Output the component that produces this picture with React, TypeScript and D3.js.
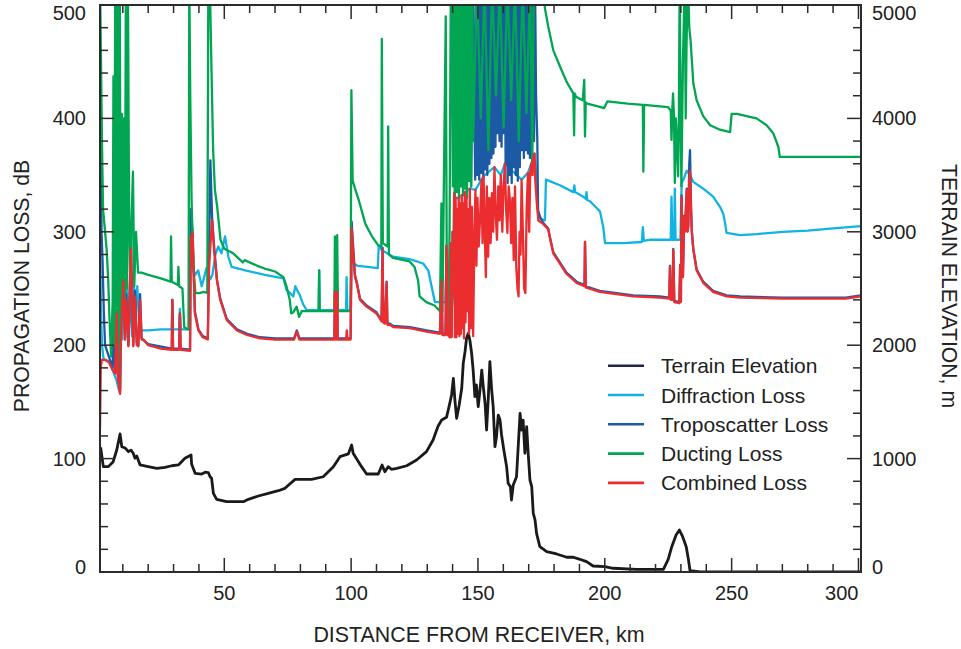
import React from "react";
import * as d3 from "d3";

type P = [number, number];

// distance (km) , elevation (m)
const terrain: P[] = [
  [1.0, 1080], [1.3, 1091], [2.3, 929], [4.3, 929], [6.2, 973], [7.6, 1076], [8.9, 1217], [9.6, 1105], [10.9, 1093],
  [12.2, 1061], [13.2, 1075], [14.1, 1047], [14.8, 1003], [15.5, 1023], [16.8, 944], [20.0, 929], [23.4, 914], [26.6, 923],
  [29.3, 937], [31.9, 944], [34.5, 1003], [36.9, 1032], [37.1, 952], [38.5, 870], [41.1, 864], [42.5, 880], [43.7, 876],
  [44.4, 840], [45.0, 826], [45.7, 694], [47.0, 641], [50.9, 620], [57.5, 620], [59.5, 641], [63.4, 670],
  [67.3, 694], [71.3, 717], [73.9, 738], [77.9, 817], [84.4, 817], [89.0, 840], [93.0, 929], [95.6, 1017],
  [98.9, 1041], [100.2, 1120], [100.8, 1047], [104.1, 929], [106.1, 864], [110.7, 864], [112.2, 944], [113.3, 884],
  [114.6, 929], [115.9, 906], [118.0, 914], [121.9, 937], [125.8, 988], [129.7, 1061], [132.3, 1164], [134.3, 1287],
  [135.7, 1340], [137.6, 1364], [138.6, 1458], [139.6, 1561], [140.3, 1708], [140.9, 1517], [141.6, 1355],
  [142.6, 1473], [143.6, 1620], [144.2, 1840], [144.9, 1943], [145.5, 2061], [146.2, 2105], [146.8, 2046],
  [147.5, 1929], [148.1, 1781], [148.8, 1546], [149.4, 1649], [150.1, 1458], [150.8, 1605], [151.5, 1781],
  [152.1, 1634], [152.8, 1488], [153.4, 1252], [154.1, 1546], [154.7, 1855], [155.4, 1605], [156.0, 1458],
  [156.7, 1105], [157.3, 1193], [158.0, 1384], [158.7, 1340], [159.3, 1208], [160.2, 1076], [161.3, 929],
  [161.9, 782], [162.8, 752], [163.2, 635], [163.9, 767], [165.2, 840], [166.6, 1399], [167.2, 1252], [167.8, 1340],
  [168.5, 1047], [169.2, 1281], [169.8, 1047], [170.5, 811], [171.2, 752], [171.8, 518], [172.5, 459], [173.1, 341],
  [174.4, 223], [177.1, 179], [181.0, 159], [185.0, 130], [187.6, 130], [190.2, 112], [192.8, 91], [195.4, 53],
  [200.0, 47], [203.3, 33], [212.5, 24], [223.1, 24], [225.0, 112], [226.4, 223], [228.1, 326], [229.4, 370],
  [230.7, 311], [232.1, 223], [233.0, 106], [233.6, 11], [237.6, 0], [301, 0],
];

// distance (km) , loss (dB)
const diffraction: P[] = [
  [1.0, 300], [1.4, 230], [1.8, 200], [2.4, 188], [3.5, 187], [5.0, 185], [6.5, 175], [7.5, 169], [8.4, 161],
  [8.9, 158], [9.3, 235], [9.8, 205], [10.4, 285], [11.0, 205], [11.6, 262], [12.2, 203], [13.0, 250], [13.6, 208],
  [14.3, 255], [15.0, 232], [15.7, 252], [16.3, 225], [16.8, 213], [20, 213], [25, 214], [29.3, 214], [29.5, 240],
  [29.8, 214], [32.2, 214], [32.5, 232], [32.8, 214], [36.2, 214], [36.6, 290], [37.3, 270], [38.5, 262],
  [39.7, 266], [41.1, 252], [43.0, 268], [44.4, 258], [45.3, 262], [46.5, 280], [47.6, 287], [48.9, 281],
  [50.3, 296], [51.6, 278], [52.9, 269], [58.2, 266], [66.0, 262], [73.3, 259], [74.5, 249], [77.2, 243],
  [78.0, 252], [78.8, 248], [79.8, 244], [81.1, 236], [82.5, 231], [87.2, 231], [87.4, 266], [87.6, 231],
  [98.0, 231], [98.2, 260], [98.5, 231], [99.8, 231], [100.2, 287], [101.0, 272], [102.5, 270], [106.5, 269],
  [110.5, 268], [110.9, 288], [112.0, 284], [116.5, 278], [123, 276], [125.8, 274], [128.4, 272], [130.4, 266],
  [131.7, 252], [133.0, 238], [135.0, 238], [137.2, 238], [137.6, 287], [138.0, 238], [138.9, 238], [139.3, 290],
  [139.6, 230], [140.3, 246], [140.6, 334], [141.2, 330], [142.4, 330], [143.6, 332], [144.8, 335], [146.8, 338],
  [149.0, 337], [151.4, 346], [152.2, 349], [156.5, 357], [159.0, 350], [160.6, 360], [167.2, 346], [169.7, 352],
  [171.0, 360], [172.3, 369], [173.1, 345], [173.8, 312], [176.4, 310], [176.8, 346], [182.3, 341], [187.6, 335],
  [188.0, 341], [188.3, 335], [191.5, 331], [192.5, 329], [192.8, 335], [193.1, 328], [194.1, 327], [196.8, 321],
  [198.1, 318], [199.4, 304], [200.1, 290], [207.3, 290], [214.6, 291], [215.0, 304], [215.4, 292], [218, 293],
  [226.0, 293], [226.3, 331], [226.6, 293], [227.3, 293], [227.6, 338], [227.9, 293], [229.8, 293], [230.3, 343],
  [231.0, 346], [232.3, 354], [233.6, 350], [234.9, 344], [238.8, 338], [242.7, 331], [245.4, 322], [246.7, 316],
  [247.3, 309], [248.0, 299], [253.3, 297], [260, 298], [270, 300], [280, 301], [290, 303], [301, 305],
];

const troposcatter: P[] = [
  [1.0, 300], [1.3, 451], [1.6, 300], [2.0, 275], [2.5, 230], [3.0, 200], [4.5, 190], [6.0, 180], [6.5, 250],
  [7.0, 176], [7.6, 230], [8.0, 175], [8.9, 160], [9.2, 220], [9.6, 316], [10.2, 260], [10.8, 210], [11.3, 245],
  [12.2, 200], [13.2, 290], [14.1, 200], [14.8, 248], [15.5, 202], [16.1, 200], [16.8, 245], [17.4, 206], [20, 201],
  [29.3, 197], [29.5, 240], [29.8, 197], [32.2, 197], [32.5, 228], [32.8, 197], [36.5, 196], [36.8, 320],
  [37.5, 300], [38.4, 230], [39.8, 214], [41.5, 208], [43.5, 206], [44.0, 280], [44.5, 363], [45.2, 312],
  [46.0, 286], [47.1, 258], [48.4, 241], [51, 223], [55, 214], [59, 210], [64.1, 207], [70, 206], [77.5, 206],
  [78.6, 213], [79.6, 206], [93.4, 206], [93.6, 248], [93.8, 206], [94.3, 206], [94.5, 248], [94.7, 206],
  [99.8, 206], [100.2, 309], [101.5, 262], [102.2, 256], [103.5, 241], [106.1, 235], [110.0, 229], [112.0, 222],
  [112.4, 286], [112.7, 221], [113.3, 220], [114.0, 256], [114.3, 219], [115.3, 219], [116.6, 217], [123.2, 216],
  [129.7, 213], [135.0, 211], [135.7, 258], [136.0, 210], [137.2, 210], [137.6, 288], [138.0, 210], [138.9, 208],
  [139.3, 290], [139.6, 208], [140.0, 300], [140.3, 250], [140.9, 335], [141.7, 520], [142.5, 340], [143.3, 520],
  [144.1, 338], [144.9, 520], [145.7, 345], [146.5, 520], [147.3, 340], [148.1, 520], [148.9, 346], [149.3, 520],
  [149.7, 350], [150.1, 520], [150.5, 346], [150.9, 520], [151.3, 352], [151.7, 520], [152.1, 346], [152.5, 520],
  [152.9, 355], [153.3, 520], [153.7, 350], [154.1, 520], [154.5, 360], [154.9, 520], [155.3, 365], [155.7, 520],
  [156.1, 369], [156.5, 520], [156.9, 375], [157.3, 520], [157.7, 387], [158.1, 520], [158.5, 380], [158.9, 520],
  [159.3, 375], [159.7, 520], [160.1, 387], [160.5, 520], [160.9, 360], [161.3, 520], [161.7, 343], [162.1, 520],
  [162.5, 350], [162.9, 520], [163.3, 343], [163.7, 520], [164.1, 357], [164.5, 520], [164.9, 350], [165.3, 520],
  [165.7, 345], [166.1, 520], [166.5, 357], [166.9, 520], [167.3, 372], [167.7, 520], [168.1, 365], [168.5, 520],
  [168.9, 372], [169.3, 520], [169.7, 369], [170.1, 520], [170.5, 365], [170.9, 520], [171.3, 372], [171.7, 520],
  [172.1, 380], [172.5, 520], [172.9, 420], [173.4, 380], [173.7, 319], [174.5, 313],
  [175.7, 308], [177.7, 303], [178.5, 294], [179.7, 282], [182.3, 273], [184.9, 264], [188.9, 256], [192.0, 253],
  [192.2, 291], [192.5, 252], [198, 248], [204.6, 246], [211.2, 244], [221.7, 243], [225.4, 242], [225.7, 270],
  [226.0, 241], [226.7, 241], [227.0, 285], [227.4, 239], [229.4, 238], [229.7, 271], [230.0, 239], [230.3, 332],
  [230.8, 261], [231.3, 314], [231.6, 301], [232.3, 338], [232.6, 301], [232.9, 305], [233.3, 360], [233.6, 372],
  [234.0, 321], [234.3, 301], [234.9, 285], [236.2, 267], [238.8, 256], [242.7, 248], [248.0, 244], [253.3, 243],
  [270, 242], [295, 242], [301, 244],
];

const ducting: P[] = [
  [1.0, 520], [1.4, 450], [1.7, 390], [2.2, 320], [2.8, 305], [3.6, 285], [4.2, 260], [4.8, 220], [5.4, 190],
  [6.0, 240], [6.3, 437], [6.6, 200], [7.0, 520], [7.4, 185], [7.9, 520], [8.3, 178], [8.8, 520], [9.2, 200],
  [9.6, 404], [10.0, 243], [10.4, 400], [10.8, 240], [11.2, 520], [11.6, 250], [12.0, 520], [12.5, 299], [13.0, 240],
  [13.4, 310], [14.0, 353], [14.5, 252], [15.2, 300], [16.0, 264], [17.4, 264], [20, 262], [25, 259], [28.8, 256],
  [29.0, 296], [29.3, 256], [31.7, 253], [31.9, 269], [32.2, 252], [33.5, 250], [34.2, 216], [35.5, 214],
  [35.9, 214], [36.2, 520], [36.6, 416], [37.1, 328], [37.8, 269], [38.6, 246], [40, 246], [42, 247], [43.3, 246],
  [43.7, 520], [44.3, 520], [44.8, 460], [45.6, 372], [46.3, 337], [47.2, 322], [48.5, 293], [50, 285], [53.5, 281],
  [57.3, 273], [58.0, 275], [63, 270], [66.7, 267], [70, 265], [73.3, 260], [74.5, 252], [75.8, 240], [76.4, 228],
  [77.2, 229], [78.5, 234], [79.5, 225], [80.5, 230], [87.2, 230], [87.4, 266], [87.6, 230], [93.4, 230],
  [93.6, 296], [93.9, 230], [94.3, 230], [94.5, 297], [94.8, 230], [99.8, 230], [100.1, 425], [100.6, 345],
  [101.7, 337], [103, 328], [105.6, 307], [108.2, 296], [110.7, 288], [111.9, 287], [112.1, 470], [112.5, 290],
  [114.4, 287], [114.6, 393], [114.9, 280], [116.5, 277], [123, 274], [125, 269], [126.4, 257], [127, 243],
  [129.6, 238], [132.9, 235], [135.0, 230], [135.6, 325], [136.0, 230], [137.3, 490], [137.8, 220], [138.3, 210],
  [138.8, 300], [139.3, 520], [139.7, 520], [140.1, 340], [140.5, 520], [140.9, 330], [141.3, 520], [141.7, 335],
  [142.1, 520], [142.5, 328], [142.9, 520], [143.3, 340], [143.7, 520], [144.1, 332], [144.5, 520], [144.9, 338],
  [145.3, 520], [145.7, 330], [146.1, 520], [146.5, 345], [146.9, 520], [147.3, 340], [147.7, 520], [148.1, 380],
  [149.6, 520], [151.1, 400], [152.6, 520], [154.1, 372], [155.6, 520], [157.1, 420], [158.6, 520], [160.1, 392],
  [161.6, 520], [163.1, 416], [164.6, 520], [166.1, 380], [167.6, 520], [169.1, 405], [170.6, 520], [171.4, 357],
  [172.0, 520], [176.2, 520], [176.4, 497], [177.7, 481],
  [179.7, 460], [182.3, 446], [185.0, 432], [187.6, 422], [187.9, 385], [188.1, 422], [188.7, 419], [191.3, 416],
  [191.9, 434], [192.2, 384], [192.5, 414], [193.1, 413], [198.4, 410], [199.7, 409], [201, 415], [209, 413],
  [215.0, 412], [215.2, 353], [215.5, 412], [224.9, 410], [226.0, 407], [226.3, 381], [226.6, 407], [226.9, 422],
  [227.3, 400], [227.6, 343], [228.0, 400], [228.4, 380], [228.9, 349], [229.2, 400], [229.5, 520], [230.0, 380],
  [230.2, 340], [230.8, 450], [231.5, 520], [231.9, 400], [232.2, 460], [232.5, 500], [232.8, 520], [233.3, 480],
  [233.8, 469], [234.9, 431], [236.2, 416], [238.8, 402], [241.5, 394], [245.4, 390], [249.4, 388], [250.0, 404],
  [252.0, 404], [259.8, 400], [263.8, 394], [266.4, 387], [268.4, 375], [269.0, 366], [301, 366],
];

const combined: P[] = [
  [1.0, 127], [1.3, 180], [1.7, 187], [3.0, 187], [4.5, 185], [6.0, 178], [7.0, 175], [7.6, 228], [8.0, 172],
  [8.9, 157], [9.2, 200], [9.6, 230], [10.2, 257], [10.8, 205], [11.3, 240], [12.2, 199], [13.2, 285], [14.1, 199],
  [14.8, 243], [15.5, 200], [16.1, 199], [16.8, 240], [17.4, 205], [18.1, 205], [20.0, 200], [25, 197], [29.3, 196],
  [29.5, 240], [29.8, 196], [32.2, 196], [32.5, 228], [32.8, 196], [36.5, 195], [36.8, 294], [37.5, 299],
  [38.4, 228], [39.8, 213], [41.5, 207], [43.5, 205], [44.0, 269], [44.5, 287], [45.2, 310], [46.0, 284],
  [47.1, 257], [48.4, 240], [51, 222], [55, 213], [59, 209], [64.1, 206], [70, 205], [77.5, 205], [78.6, 212],
  [79.6, 205], [93.4, 205], [93.6, 247], [93.8, 205], [94.3, 205], [94.5, 247], [94.7, 205], [98.0, 205],
  [98.3, 213], [98.6, 205], [99.8, 205], [100.2, 303], [101.5, 260], [102.2, 255], [103.5, 240], [106.1, 234],
  [110.0, 228], [112.0, 221], [112.4, 284], [112.7, 220], [113.3, 219], [114.0, 255], [114.3, 218], [115.3, 218],
  [116.6, 216], [123.2, 215], [129.7, 212], [135.0, 210], [135.4, 240], [135.7, 257], [136.0, 209], [137.2, 209],
  [137.6, 287], [138.0, 209], [138.6, 208], [138.9, 207], [139.3, 290], [139.6, 207], [140.0, 300], [140.3, 246],
  [140.6, 334], [140.9, 207], [141.2, 330], [141.5, 207], [141.8, 320], [142.1, 210], [142.4, 330], [142.7, 208],
  [143.0, 325], [143.3, 210], [143.6, 332], [143.9, 215], [144.2, 325], [144.5, 206], [144.8, 335], [145.1, 220],
  [145.5, 331], [145.8, 230], [146.2, 320], [146.5, 210], [146.8, 338], [147.2, 215], [147.6, 322], [148.1, 208],
  [148.6, 300], [149.0, 337], [149.4, 270], [149.8, 330], [150.3, 287], [150.8, 310], [151.4, 346], [151.8, 290],
  [152.2, 349], [152.7, 300], [153.1, 260], [153.5, 340], [154.0, 278], [154.5, 330], [155.0, 290], [155.5, 334],
  [156.0, 300], [156.5, 357], [157.0, 315], [157.5, 293], [158.0, 340], [158.5, 310], [159.0, 350], [159.6, 300],
  [160.1, 340], [160.6, 360], [161.1, 320], [161.6, 299], [162.1, 340], [162.6, 328], [163.1, 290], [163.6, 330],
  [164.1, 275], [164.6, 340], [165.1, 269], [165.6, 250], [166.0, 243], [166.4, 300], [166.8, 280], [167.2, 346],
  [167.7, 300], [168.2, 250], [168.7, 246], [169.2, 320], [169.7, 352], [170.2, 300], [170.6, 352], [171.0, 360],
  [171.5, 350], [171.8, 366], [172.3, 369], [172.6, 345], [173.1, 328], [173.8, 310], [175.7, 307], [177.7, 302],
  [178.5, 293], [179.7, 281], [182.3, 272], [184.9, 263], [188.9, 255], [192.0, 252], [192.2, 291], [192.5, 251],
  [198, 247], [204.6, 245], [211.2, 243], [221.7, 242], [225.4, 241], [225.7, 269], [226.0, 240], [226.7, 240],
  [227.0, 284], [227.4, 238], [229.4, 237], [229.7, 270], [230.0, 238], [230.3, 331], [230.8, 260], [231.3, 313],
  [231.6, 300], [232.3, 337], [232.6, 300], [232.9, 304], [233.3, 345], [233.6, 354], [234.0, 320], [234.3, 300],
  [234.9, 284], [236.2, 266], [238.8, 255], [242.7, 247], [248.0, 243], [253.3, 242], [270, 241], [295, 241],
  [301, 243],
];

const xLabelTicks = [50, 100, 150, 200, 250, 300];
const leftLabelTicks = [0, 100, 200, 300, 400, 500];
const rightLabelTicks = [0, 1000, 2000, 3000, 4000, 5000];

const legendLabels = ["Terrain Elevation", "Diffraction Loss", "Troposcatter Loss", "Ducting Loss", "Combined Loss"];
const legendColors = ["#23244a", "#12b2e2", "#1c5aa6", "#00a651", "#ec2d30"];

const FONT = "'Liberation Sans', Arial, Helvetica, sans-serif";

export default function App() {
  const L = 100, R = 861, T = 5, B = 572;
  const x = d3.scaleLinear().domain([1, 301]).range([L, R]);
  const yL = d3.scaleLinear().domain([0, 500]).range([B, T]);
  const yR = d3.scaleLinear().domain([0, 5000]).range([B, T]);
  const lineL = d3.line<P>().x((d) => x(d[0])).y((d) => yL(d[1]));
  const lineR = d3.line<P>().x((d) => x(d[0])).y((d) => yR(d[1]));

  const xMinor = d3.range(10, 301, 10);
  const yMinor = d3.range(20, 500, 20);
  const axisColor = "#2b2b2b";

  const series: { data: P[]; color: string }[] = [
    { data: diffraction, color: legendColors[1] },
    { data: troposcatter, color: legendColors[2] },
    { data: ducting, color: legendColors[3] },
    { data: combined, color: legendColors[4] },
  ];

  const clampLabel = (v: number) => Math.min(Math.max(v, T + 8), B - 5);

  return (
    <svg width={961} height={649} style={{ position: "absolute", left: 0, top: 0, background: "#fff" }} fontFamily={FONT}>
      <defs>
        <clipPath id="plot">
          <rect x={L} y={T} width={R - L} height={B - T} />
        </clipPath>
      </defs>
      <g clipPath="url(#plot)" fill="none" strokeLinejoin="round">
        <path d={lineR(terrain) || ""} stroke="#1a1a1a" strokeWidth={2.8} />
        {series.map((s, i) => (
          <path key={i} d={lineL(s.data) || ""} stroke={s.color} strokeWidth={2.3} />
        ))}
      </g>
      <rect x={L} y={T} width={R - L} height={B - T} fill="none" stroke={axisColor} strokeWidth={2} />
      {xMinor.map((v) => {
        const len = v % 50 === 0 ? 14 : 8;
        const px = x(v);
        return (
          <g key={"xt" + v} stroke={axisColor} strokeWidth={1.5}>
            <line x1={px} x2={px} y1={B} y2={B - len} />
            <line x1={px} x2={px} y1={T} y2={T + len} />
          </g>
        );
      })}
      {yMinor.map((v) => {
        const len = v % 100 === 0 ? 14 : 8;
        const py = yL(v);
        return (
          <g key={"yt" + v} stroke={axisColor} strokeWidth={1.5}>
            <line x1={L} x2={L + len} y1={py} y2={py} />
            <line x1={R} x2={R - len} y1={py} y2={py} />
          </g>
        );
      })}
      {xLabelTicks.map((v, i) => (
        <text
          key={"xl" + v}
          x={x(v)}
          y={600}
          fontSize={20}
          fill="#222"
          textAnchor={i === xLabelTicks.length - 1 ? "end" : "middle"}
        >
          {v}
        </text>
      ))}
      {leftLabelTicks.map((v) => (
        <text key={"ll" + v} x={86} y={clampLabel(yL(v)) + 7} fontSize={20} fill="#222" textAnchor="end">
          {v}
        </text>
      ))}
      {rightLabelTicks.map((v) => (
        <text key={"rl" + v} x={872} y={clampLabel(yR(v)) + 7} fontSize={20} fill="#222" textAnchor="start">
          {v}
        </text>
      ))}
      <text x={479} y={642} fontSize={21.4} fill="#222" textAnchor="middle">
        DISTANCE FROM RECEIVER, km
      </text>
      <text transform="translate(29,286) rotate(-90)" fontSize={21.2} fill="#222" textAnchor="middle">
        PROPAGATION LOSS, dB
      </text>
      <text transform="translate(942,286) rotate(90)" fontSize={21.2} fill="#222" textAnchor="middle">
        TERRAIN ELEVATION, m
      </text>
      {legendLabels.map((lab, i) => {
        const cy = 365.7 + i * 29.3;
        return (
          <g key={lab}>
            <line x1={608} x2={644} y1={cy} y2={cy} stroke={legendColors[i]} strokeWidth={2.6} />
            <text x={661} y={cy + 7.5} fontSize={21} fill="#222">
              {lab}
            </text>
          </g>
        );
      })}
    </svg>
  );
}
